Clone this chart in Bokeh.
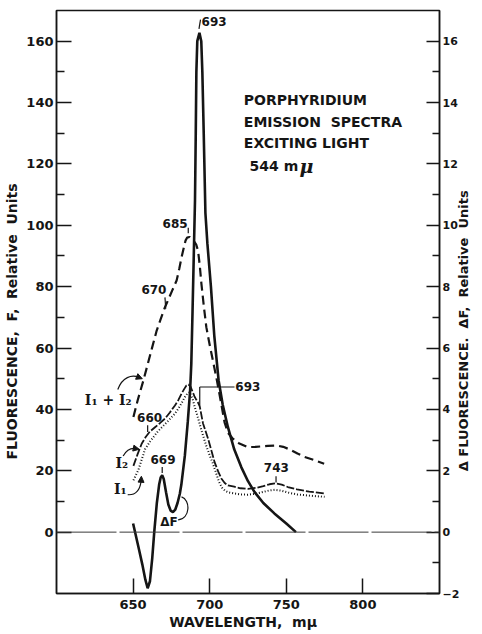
import numpy as np
from bokeh.plotting import figure
from bokeh.models import Range1d, LinearAxis, FixedTicker, Span, Arrow, NormalHead
from bokeh.core.properties import value
from bokeh.embed import file_html
from bokeh.resources import INLINE

# ---------------- data ----------------
# Delta F difference spectrum (right axis units)
wl_df = [650, 652, 654, 656, 658, 659.5, 661, 662.5, 663.8, 665.5, 667, 668, 669, 670,
         671.5, 673, 674.5, 676, 677.5, 679, 680.5, 681.5, 683.8, 685.7, 687.2, 688.0,
         688.8, 689.6, 690.4, 690.9, 691.3, 691.9, 693.3, 694.5, 695.2, 696.1, 697.2,
         698.5, 700.8, 703.0, 705.8, 708.5, 711.9, 716, 720.6, 725, 729.2, 735, 742.2,
         750, 756.3]
df_vals = [0.28, -0.16, -0.60, -1.05, -1.55, -1.83, -1.60, -0.85, 0.0, 0.95, 1.55, 1.78,
           1.85, 1.73, 1.30, 0.90, 0.70, 0.65, 0.73, 0.95, 1.25, 1.55, 2.5, 3.6, 4.6, 5.5,
           7.2, 9.0, 10.8, 13.0, 15.0, 16.0, 16.27, 16.0, 15.0, 13.0, 10.4,
           9.4, 8.0, 6.4, 4.95, 4.15, 3.42, 2.7, 2.12, 1.66, 1.31, 0.95, 0.61,
           0.28, 0.0]

# I1 + I2 (left axis)
wl_sum = [650.2, 653, 656.7, 660, 662.5, 665.4, 668, 670.8, 673, 675.5, 678.4, 680.2,
          681.6, 683, 684.2, 685.3, 686.8, 688.2, 689.6, 691.2, 692.4, 693.5, 694.6,
          696.2, 697.8, 700, 702.1, 704.3, 706, 708, 709.7, 712, 715, 719, 724.9, 730,
          737.9, 744, 748, 752, 757.3, 762, 768, 774.7]
sum_vals = [37.5, 43, 49.4, 55.6, 60.3, 65.7, 69.4, 73.3, 75.8, 78.7, 82, 86,
            89.5, 92.5, 95, 96, 96.2, 95.6, 94.9, 93.7, 91.7, 87, 80.9,
            73.5, 66.8, 61, 55.9, 50.5, 46, 40.5, 35.8, 32.3, 30.5, 29, 27.7, 27.8,
            28.1, 28.2, 27.8, 27, 25.6, 24.5, 23.5, 22.3]

# I2 (left axis)
wl_i2 = [650.2, 653, 655.6, 658.2, 661, 664.3, 667.5, 670.8, 674, 677.3, 679.5, 681.6,
         683.3, 684.8, 686.2, 687.5, 688.8, 690, 691.2, 692.3, 693.5, 695.6, 698.9, 702,
         703.2, 705.5, 707.6, 709.8, 711.9, 716, 720, 725, 730, 735, 739, 743, 747, 751,
         757, 765, 775]
i2_vals = [21.6, 25.5, 28.8, 31, 32.8, 34.2, 35.5, 37, 39, 41.3, 43, 45.1,
           46.6, 47.8, 48.1, 47.4, 45.8, 44.3, 43.2, 42.3, 41.0, 35.5, 30.5, 25,
           22.8, 19.8, 17.5, 16.0, 15.2, 14.8, 14.3, 14.1, 14.4, 15.0, 15.6, 15.9, 15.5, 14.7,
           13.9, 13.2, 12.6]

# I1 (left axis)
wl_i1 = [650.2, 653.4, 657.8, 661, 666.4, 672, 677.3, 680.5, 683.8, 685.5, 687, 688.8,
         690.3, 692.5, 694.6, 697.5, 700, 702, 704, 706, 708, 710, 712, 716, 720, 725,
         730, 735, 739, 742.5, 747, 751, 757, 765, 775]
i1_vals = [16.9, 20.2, 27, 29.5, 33, 35.8, 38.6, 41, 44, 45.2, 45.6, 43.5,
           40.7, 37, 33.2, 28.5, 25.0, 22.5, 19.5, 16.5, 14.5, 13.5, 13.0, 12.6, 12.3, 12.2,
           12.5, 13.1, 13.6, 13.8, 13.5, 12.9, 12.3, 11.9, 11.5]

x_ticks = [650, 700, 750, 800]
left_ticks = [0, 20, 40, 60, 80, 100, 120, 140, 160]
left_minor = [10, 30, 50, 70, 90, 110, 130, 150]
right_ticks = [-2, 0, 2, 4, 6, 8, 10, 12, 14, 16]
right_minor = [-1, 1, 3, 5, 7, 9, 11, 13, 15]

# peak annotations (text, x, y)
peak_text = ["693", "685", "670", "660", "669", "693", "743", "ΔF"]
peak_x = [702.9, 677.4, 663.6, 660.8, 669.5, 724.9, 743.5, 673.4]
peak_y = [166.5, 100.6, 79.0, 37.5, 23.7, 47.3, 21.0, 3.3]
# short pointer strokes
seg_x0 = [693.0, 686.0, 670.8, 659.5, 669.0, 743.3, 693.5, 693.5]
seg_y0 = [164.0, 97.4, 76.5, 34.8, 21.2, 18.2, 41.3, 47.3]
seg_x1 = [694.0, 686.0, 671.3, 659.5, 669.0, 743.3, 693.5, 716.2]
seg_y1 = [167.0, 99.2, 72.8, 32.6, 19.3, 16.2, 47.3, 47.3]

curve_text = ["I₁ + I₂", "I₂", "I₁"]
curve_x = [633.8, 642.6, 641.6]
curve_y = [43.0, 22.4, 14.0]

NB = "\u00a0"
title_lines = ["PORPHYRIDIUM", "EMISSION" + NB + NB + "SPECTRA", "EXCITING LIGHT"]
title_x = 722.3
title_y = [140.8, 133.7, 126.8]

INK = "#151515"
SANS = "DejaVu Sans"
SERIF = "DejaVu Serif"

p = figure(width=482, height=634, x_range=Range1d(600, 850), y_range=Range1d(-20, 170),
           output_backend="svg", toolbar_location=None,
           min_border_left=56, min_border_right=43, min_border_top=10, min_border_bottom=41)
p.extra_y_ranges = {"df": Range1d(-2, 17)}
p.xgrid.visible = False
p.ygrid.visible = False
p.outline_line_color = INK
p.outline_line_width = 1.5
p.background_fill_color = "white"
p.border_fill_color = "white"


def style_axis(ax, tin, minin, fs):
    ax.axis_line_color = INK
    ax.axis_line_width = 1.5
    ax.major_tick_line_color = INK
    ax.major_tick_line_width = 1.5
    ax.major_tick_in = tin
    ax.major_tick_out = 0
    ax.minor_tick_line_color = INK
    ax.minor_tick_line_width = 1.5
    ax.minor_tick_in = minin
    ax.minor_tick_out = 0
    ax.major_label_text_font = SANS
    ax.major_label_text_font_size = fs
    ax.major_label_text_font_style = "bold"
    ax.major_label_text_color = INK
    ax.axis_label_text_font = SANS
    ax.axis_label_text_font_style = "bold"
    ax.axis_label_text_color = INK


xa = p.xaxis[0]
xa.ticker = FixedTicker(ticks=x_ticks, minor_ticks=[])
style_axis(xa, 15, 0, "13px")
xa.minor_tick_line_color = None
xa.major_label_standoff = 6
xa.axis_label = "WAVELENGTH," + NB + NB + "mμ" + NB + NB
xa.axis_label_text_font_size = "14px"
xa.axis_label_standoff = 2

ya = p.yaxis[0]
ya.ticker = FixedTicker(ticks=left_ticks, minor_ticks=left_minor)
style_axis(ya, 15, 8, "13px")
ya.major_label_standoff = 3
ya.axis_label = ("FLUORESCENCE," + NB + NB + "F," + NB + NB + "Relative" + NB + NB + "Units"
                 + NB * 8)
ya.axis_label_text_font_size = "14px"
ya.axis_label_standoff = 3

ra = LinearAxis(y_range_name="df", ticker=FixedTicker(ticks=right_ticks, minor_ticks=right_minor))
style_axis(ra, 13, 7, "11px")
ra.major_label_standoff = 3
right_label = ("Δ FLUORESCENCE." + NB + NB + "ΔF," + NB + NB + "Relative" + NB + NB + "Units")
ra.axis_label_text_font_size = "13px"
ra.axis_label_standoff = 1
try:
    ra.axis_label_orientation = np.pi / 2
    ra.axis_label_align = "start"
    ra.axis_label = NB * 27 + right_label
except Exception:
    ra.axis_label = right_label
p.add_layout(ra, "right")

# zero line
p.add_layout(Span(location=0, dimension="width", line_color="#3a3a3a", line_width=1,
                  line_dash="60 3"))

# curves
p.line(wl_sum, sum_vals, line_color=INK, line_width=2.2, line_dash="9 5")
p.line(wl_i2, i2_vals, line_color=INK, line_width=1.8, line_dash="8 2")
p.line(wl_i1, i1_vals, line_color=INK, line_width=2.0, line_dash="1 2")
p.line(wl_df, df_vals, line_color=INK, line_width=2.6, y_range_name="df")

# pointer strokes
p.segment(seg_x0, seg_y0, seg_x1, seg_y1, line_color=INK, line_width=1.2)

# peak labels
p.text(peak_x, peak_y, text=peak_text, text_font=value(SANS), text_font_size="12px",
       text_font_style="bold", text_color=INK, text_align="center", text_baseline="middle")

# curve labels
p.text(curve_x, curve_y, text=curve_text, text_font=value(SERIF), text_font_size="14px",
       text_font_style="bold", text_color=INK, text_align="center", text_baseline="middle")

# curved pointers for curve labels
bz_x0 = [640.0, 643.5, 646.5, 679.4]
bz_y0 = [46.5, 24.8, 12.2, 4.0]
bz_cx0 = [643.0, 646.0, 652.0, 687.5]
bz_cy0 = [50.5, 27.0, 12.0, 4.5]
bz_cx1 = [649.0, 649.0, 654.5, 687.5]
bz_cy1 = [51.5, 27.5, 14.0, 10.5]
bz_x1 = [654.0, 652.0, 655.2, 681.6]
bz_y1 = [50.4, 27.2, 16.5, 11.5]
p.bezier(bz_x0, bz_y0, bz_x1, bz_y1, bz_cx0, bz_cy0, bz_cx1, bz_cy1,
         line_color=INK, line_width=1.2)

head_x0 = [654.0, 652.0, 655.2]
head_y0 = [50.4, 27.2, 16.5]
head_x1 = [656.0, 654.0, 655.4]
head_y1 = [50.0, 27.0, 18.2]
for hx0, hy0, hx1, hy1 in zip(head_x0, head_y0, head_x1, head_y1):
    p.add_layout(Arrow(end=NormalHead(size=6, fill_color=INK, line_color=INK, line_width=1),
                       x_start=hx0, y_start=hy0, x_end=hx1, y_end=hy1,
                       line_color=INK, line_width=1.2))

# title block
p.text([title_x] * 3, title_y, text=title_lines, text_font=value(SANS), text_font_size="14px",
       text_font_style="bold", text_color=INK, text_align="left", text_baseline="middle")
p.text([726.0], [119.3], text=["544 m"], text_font=value(SANS), text_font_size="14px",
       text_font_style="bold", text_color=INK, text_align="left", text_baseline="alphabetic")
p.text([726.0], [119.3], text=["μ"], x_offset=50, text_font=value(SERIF), text_font_size="19px",
       text_font_style="bold italic", text_color=INK, text_align="left",
       text_baseline="alphabetic")

open("out.html", "w").write(file_html(p, INLINE))
